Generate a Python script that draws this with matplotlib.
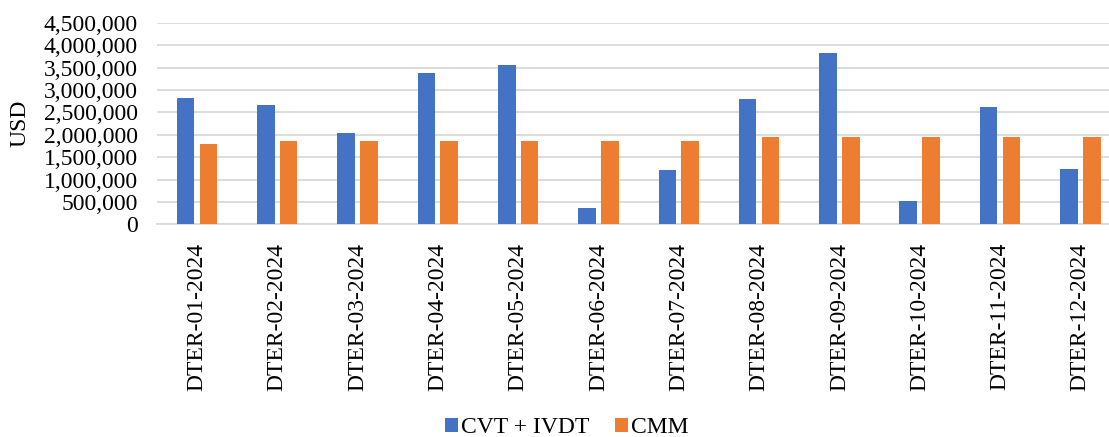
import matplotlib
matplotlib.use('Agg')
import matplotlib.pyplot as plt
import numpy as np
from matplotlib.ticker import FuncFormatter

# Data
months = ['DTER-01-2024', 'DTER-02-2024', 'DTER-03-2024', 'DTER-04-2024',
          'DTER-05-2024', 'DTER-06-2024', 'DTER-07-2024', 'DTER-08-2024',
          'DTER-09-2024', 'DTER-10-2024', 'DTER-11-2024', 'DTER-12-2024']
cvt_ivdt = [2820000, 2670000, 2050000, 3370000, 3550000, 360000,
            1220000, 2790000, 3830000, 520000, 2620000, 1240000]
cmm = [1800000, 1870000, 1870000, 1870000, 1870000, 1870000,
       1870000, 1950000, 1950000, 1950000, 1950000, 1950000]

plt.rcParams['font.family'] = ['Liberation Serif', 'DejaVu Serif']
FS = 17

fig = plt.figure(figsize=(11.09, 4.37), dpi=100)
# plot area runs slightly past the right edge, as in the reference
ax = fig.add_axes([0.1414, 0.4863, 0.8689, 0.4618])

x = np.arange(len(months))
w = 0.22
off = 0.142
ax.bar(x - off, cvt_ivdt, w, color='#4472C4', label='CVT + IVDT', zorder=3)
ax.bar(x + off, cmm, w, color='#ED7D31', label='CMM', zorder=3)

ax.set_xlim(-0.5, len(months) - 0.5)
ax.set_ylim(0, 4500000)
ax.set_yticks(np.arange(0, 4500001, 500000))
ax.yaxis.set_major_formatter(FuncFormatter(lambda v, p: f'{int(v):,}'))
ax.grid(axis='y', color='#d9d9d9', lw=1.3, zorder=0)
ax.set_axisbelow(True)

ax.set_xticks(x)
ax.set_xticklabels(months, rotation=90, fontsize=FS)
ax.tick_params(axis='y', labelsize=FS, length=0, pad=13.5)
ax.tick_params(axis='x', length=0, pad=13)

for s in ['top', 'right', 'left']:
    ax.spines[s].set_visible(False)
ax.spines['bottom'].set_color('#d9d9d9')
ax.spines['bottom'].set_linewidth(1.3)

fig.text(0.0176, 0.717, 'USD', rotation=90, ha='center', va='center', fontsize=FS)

fig.legend(loc='center', bbox_to_anchor=(0.511, 0.021), ncol=2,
           frameon=False, fontsize=FS, handlelength=0.55, handleheight=0.55,
           handletextpad=0.15, columnspacing=1.05, borderpad=0, borderaxespad=0)

plt.savefig('out.png', dpi=100, facecolor='white')
